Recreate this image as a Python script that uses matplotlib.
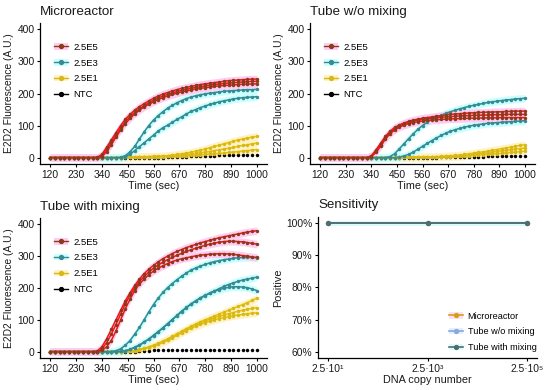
import matplotlib
matplotlib.use("Agg")
import matplotlib.pyplot as plt
from matplotlib.lines import Line2D
from matplotlib.patches import Patch
import numpy as np

plt.rcParams['font.family'] = ['Liberation Sans', 'DejaVu Sans']

time = np.arange(120, 1001, 20)
time_ticks = [120, 230, 340, 450, 560, 670, 780, 890, 1000]
fluo_ticks = [0, 100, 200, 300, 400]
groups = ['2.5E5', '2.5E3', '2.5E1', 'NTC']

# Microreactor
mr_e5 = [
    [0,0,0,0,0,0,0,0,0,0,1, 10,32,55,78,100,120,135,148,159,168, 177,185,192,198,203,208,212,216,219,222, 225,228,230,232,234,236,238,240,241,242, 243,244,245,245],
    [0,0,0,0,0,0,0,0,0,0,0, 6,26,48,70,92,112,128,141,152,162, 171,179,186,192,197,202,206,210,213,216, 219,221,224,226,228,230,231,233,234,235, 236,237,238,238],
    [0,0,0,0,0,0,0,0,0,0,0, 3,18,40,64,86,106,122,136,148,158, 166,174,181,187,192,197,201,205,208,211, 214,216,218,220,222,224,225,226,227,228, 229,229,230,230],
]
mr_e3 = [
    [0,0,0,0,0,0,0,0,0,0,0,0,0,0,0, 1,6,18,35,58,80,100,117,131,143, 154,163,171,178,184,189,193,196,199,201, 203,205,207,208,209,210,211,212,212,213],
    [0,0,0,0,0,0,0,0,0,0,0,0,0,0,0, 0,3,10,22,34,46,58,70,83,93, 101,110,119,127,136,144,150,156,161,166, 170,174,177,180,183,185,187,188,189,190],
]
mr_e1 = [
    [0,0,0,0,0,0,0,0,0,0,0,0,0,0,0,0, 1,2,2,3,3,3,4,4,5, 6,8,10,12,14,17,20,23,27,31, 35,39,43,47,51,55,58,61,64,66],
    [0,0,0,0,0,0,0,0,0,0,0,0,0,0,0,0, 1,2,2,2,3,3,3,3,4, 5,6,7,8,10,11,13,15,17,19, 22,24,27,29,32,35,38,40,43,45],
    [0,0,0,0,0,0,0,0,0,0,0,0,0,0,0,0, 1,1,2,2,2,2,3,3,3, 4,4,5,5,6,7,8,9,10,11, 12,13,14,16,17,19,20,22,23,25],
]
mr_ntc = [
    [0,0,0,0,0,0,0,0,0,0,0,0,0,0,0,0,0,0,0,0,0,0,0,0,0, 1,2,2,3,3,4,4,5,5,6, 6,7,7,7,8,8,8,9,9,9],
]

# Tube w/o mixing
wo_e5 = [
    [0,0,0,0,0,0,0,0,0,0,0, 6,24,45,66,82,94,102,108,113,117, 120,123,125,127,129,131,133,135,136,137, 138,139,140,141,141,142,142,143,143,144, 144,145,145,145],
    [0,0,0,0,0,0,0,0,0,0,0, 4,20,40,62,78,90,99,105,110,114, 117,119,121,123,124,126,127,128,129,130, 131,131,132,132,133,133,134,134,134,135, 135,135,135,135],
    [0,0,0,0,0,0,0,0,0,0,0, 3,16,36,57,74,86,95,101,106,109, 112,114,116,117,118,119,120,121,121,122, 122,123,123,123,124,124,124,124,125,125, 125,125,125,125],
]
wo_e3 = [
    [0,0,0,0,0,0,0,0,0,0,0,0,0,0,0, 3,12,27,43,59,74,88,100,110,119, 126,132,138,143,148,152,156,160,163,166, 169,172,174,176,178,180,181,183,184,185],
    [0,0,0,0,0,0,0,0,0,0,0,0,0,0,0,0,0, 2,5,10,17,26,35,44,53, 61,69,76,82,87,91,95,98,101,103, 105,107,108,109,110,111,112,113,114,115],
]
wo_e1 = [
    [0,0,0,0,0,0,0,0,0,0,0,0,0,0,0,0,0, 1,1,1,2,2,2,2,3, 3,4,5,6,7,8,10,12,14,16, 18,20,23,25,28,30,33,35,38,40],
    [0,0,0,0,0,0,0,0,0,0,0,0,0,0,0,0,0, 1,1,1,1,2,2,2,2, 3,3,4,4,5,6,7,9,10,12, 13,15,17,19,21,23,25,27,28,30],
    [0,0,0,0,0,0,0,0,0,0,0,0,0,0,0,0,0, 0,1,1,1,1,1,2,2, 2,2,3,3,4,4,5,6,7,8, 9,10,11,12,13,15,16,17,19,20],
]
wo_ntc = [
    [0,0,0,0,0,0,0,0,0,0,0,0,0,0,0,0,0,0,0,0,0,0,0,0,0, 0,1,1,1,2,2,2,3,3,3, 3,4,4,4,4,5,5,5,5,5],
]

# Tube with mixing
wm_e5 = [
    [0,0,0,0,0,0,0,0,0,0, 2,15,40,70,100,130,160,185,208,228, 245,259,271,282,292,300,308,315,321,327, 332,337,342,346,350,354,358,361,364,367, 370,373,376,378,380],
    [0,0,0,0,0,0,0,0,0,0, 0,8,28,55,85,118,150,178,200,220, 236,250,262,272,281,289,296,303,309,315, 320,325,330,334,338,341,344,346,347,347, 346,345,343,340,338],
    [0,0,0,0,0,0,0,0,0,0, 0,4,15,35,65,100,135,165,192,212, 228,242,253,262,270,277,283,288,292,295, 298,301,303,305,306,307,308,308,307,306, 304,302,300,298,296],
]
wm_e3 = [
    [0,0,0,0,0,0,0,0,0,0,0,0,0,0, 3,9,20,35,55,76, 100,125,148,168,186,201,214,226,237,247, 256,263,269,274,279,283,286,289,291,293, 295,296,296,296,295],
    [0,0,0,0,0,0,0,0,0,0,0,0,0,0,0, 1,3,7,13,20, 29,39,50,62,74,87,100,113,126,138, 149,159,168,176,184,191,198,205,211,216, 221,225,228,231,234],
    [0,0,0,0,0,0,0,0,0,0,0,0,0,0,0, 1,3,7,14,21, 30,40,51,63,75,88,101,114,127,139, 150,160,169,177,184,190,195,199,202,204, 204,203,201,197,192],
]
wm_e1 = [
    [0,0,0,0,0,0,0,0,0,0,0,0,0,0,0,0, 1,2,4,7,11,15,20,26,33, 40,48,56,64,72,80,87,94,100,106, 112,118,124,130,136,142,148,154,161,168],
    [0,0,0,0,0,0,0,0,0,0,0,0,0,0,0,0, 1,2,3,6,10,14,19,25,31, 38,46,54,62,70,77,84,91,97,102, 107,111,115,119,123,127,130,133,136,138],
    [0,0,0,0,0,0,0,0,0,0,0,0,0,0,0,0, 1,2,3,6,9,13,18,23,29, 36,43,51,59,66,73,80,86,91,96, 100,104,107,110,113,115,117,119,121,122],
]
wm_ntc = [
    [0,0,0,0,0,0,0,0,0,0,0,0,0,0,0,0,0,0,0, 1,2,3,4,4, 5,5,5,5,5,5,5,5,5,5,5,5,5,5,5,5,5,5,5,5,5],
]

# Sensitivity
copies = [25, 2500, 250000]
copy_labels = ['2.5·10¹', '2.5·10³', '2.5·10⁵']
methods = ['Microreactor', 'Tube w/o mixing', 'Tube with mixing']
pos_mr = [100, 100, 100]
pos_wo = [100, 100, 100]
pos_wm = [100, 100, 100]
pos_ticks = [60, 70, 80, 90, 100]

pt_col = ['#8b3a1c', '#3a8a92', '#d8b818', 'black']
ln_col = ['#f41414', '#2f8c94', '#e6c400', 'black']
rb_col = ['#ffcdf2', '#c8ffff', '#fff2c4', None]

TXT = '#1a1a1a'


def style(ax):
    for s in ['top', 'right']:
        ax.spines[s].set_visible(False)
    for s in ['left', 'bottom']:
        ax.spines[s].set_linewidth(0.9)
    ax.tick_params(length=2.5, width=0.8, labelsize=7.4, colors='black',
                   labelcolor=TXT, pad=1.5)


def curve_panel(ax, title, data):
    for g in [2, 1, 0]:
        for r in data[g]:
            r = np.array(r)
            ax.fill_between(time, r - 12, r + 12, color=rb_col[g], lw=0, zorder=1)
    for g in [3, 2, 1, 0]:
        for r in data[g]:
            if g < 3:
                ax.plot(time, r, color=ln_col[g], lw=1.1, zorder=2)
            ax.plot(time, r, 'o', color=pt_col[g], ms=2.5, mew=0, zorder=3)
    ax.set_xlim(76, 1044)
    ax.set_ylim(-20, 420)
    ax.set_xticks(time_ticks)
    ax.set_yticks(fluo_ticks)
    ax.set_xlabel('Time (sec)', fontsize=7.8, color=TXT, labelpad=1)
    ax.set_ylabel('E2D2 Fluorescence (A.U.)', fontsize=7.4, color=TXT, labelpad=2)
    style(ax)
    handles = []
    for g in range(4):
        ln = Line2D([], [], color=pt_col[g], marker='o', ms=2.8, lw=1)
        if rb_col[g]:
            handles.append((Patch(facecolor=rb_col[g], edgecolor='none'), ln))
        else:
            handles.append(ln)
    ax.legend(handles, groups, loc='upper left', bbox_to_anchor=(0.06, 0.86),
              frameon=False, fontsize=6.8, handlelength=1.5, handletextpad=0.6,
              labelspacing=0.72, borderpad=0, borderaxespad=0)
    ax.text(0.0, 1.035, title, transform=ax.transAxes, fontsize=9.6,
            color=TXT, va='bottom', ha='left')


fig = plt.figure(figsize=(5.5, 3.9), dpi=100)

ax1 = fig.add_axes([40/550, 1-164/390, 227/550, 141/390])
ax2 = fig.add_axes([310/550, 1-164/390, 225/550, 141/390])
ax3 = fig.add_axes([40/550, 1-358/390, 227/550, 140/390])
ax4 = fig.add_axes([318/550, 1-358/390, 219/550, 141/390])

curve_panel(ax1, 'Microreactor', [mr_e5, mr_e3, mr_e1, mr_ntc])
curve_panel(ax2, 'Tube w/o mixing', [wo_e5, wo_e3, wo_e1, wo_ntc])
curve_panel(ax3, 'Tube with mixing', [wm_e5, wm_e3, wm_e1, wm_ntc])

# sensitivity panel
sens_col = ['#d4a017', '#8aa8d8', '#4d6e6e']
sens_bg = ['#ffe0f0', '#e2efff', '#dcfcfc']
ax4.fill_between(copies, np.array(pos_wm) - 0.7, np.array(pos_wm) + 0.7,
                 color='#d8fcfc', lw=0, zorder=1)
for vals, c in zip([pos_mr, pos_wo, pos_wm], sens_col):
    ax4.plot(copies, vals, '-o', color=c, lw=1.3, ms=2.8, zorder=2)
ax4.set_xscale('log')
ax4.set_xlim(25 / 10**0.2, 250000 * 10**0.2)
ax4.set_ylim(58, 102)
ax4.set_xticks(copies)
ax4.set_xticklabels(copy_labels)
ax4.minorticks_off()
ax4.set_yticks(pos_ticks)
ax4.set_yticklabels([f'{v}%' for v in pos_ticks])
ax4.set_xlabel('DNA copy number', fontsize=7.8, color=TXT, labelpad=1)
ax4.set_ylabel('Positive', fontsize=7.8, color=TXT, labelpad=2)
style(ax4)
sh = [(Patch(facecolor=b, edgecolor='none'),
       Line2D([], [], color=c, marker='o', ms=2.8, lw=1.2))
      for c, b in zip(sens_col, sens_bg)]
ax4.legend(sh, methods, loc='lower left', bbox_to_anchor=(0.6, 0.04),
           frameon=False, fontsize=6.6, handlelength=1.5, handletextpad=0.5,
           labelspacing=0.75, borderpad=0, borderaxespad=0)
ax4.text(0.0, 1.04, 'Sensitivity', transform=ax4.transAxes, fontsize=9.6,
         color=TXT, va='bottom', ha='left')

fig.savefig('out.png', dpi=100)
